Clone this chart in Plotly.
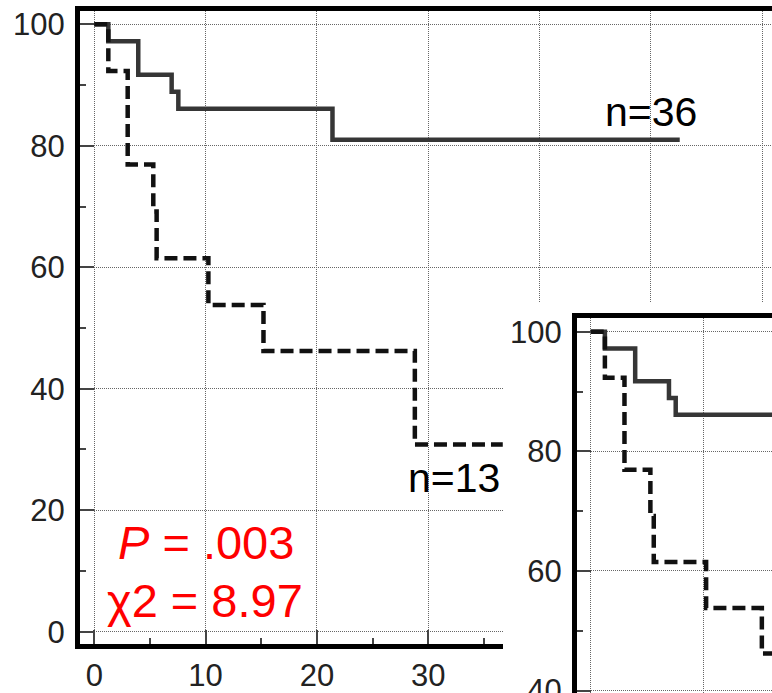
import plotly.graph_objects as go

# Kaplan-Meier steps
solid_time = [0, 1.26, 3.95, 6.95, 7.55, 21.4, 52.6]
solid_surv = [100, 97.2, 91.7, 88.9, 86.1, 81.0, 81.0]
dash_time = [0, 1.26, 3.0, 5.3, 5.6, 10.25, 15.2, 28.8, 36.7]
dash_surv = [100, 92.3, 76.9, 69.2, 61.5, 53.8, 46.2, 30.8, 30.8]

x_ticks = [0, 10, 20, 30, 40, 50, 60]
# labels for 40-60 lie under the inset panel in the picture
x_tick_labels = ["0", "10", "20", "30", "", "", ""]
y_ticks = [0, 20, 40, 60, 80, 100]
y_tick_labels = ["0", "20", "40", "60", "80", "100"]
inset_y_ticks = [40, 60, 80, 100]
inset_y_tick_labels = ["40", "60", "80", "100"]

label_n36 = "n=36"
label_n13 = "n=13"
label_p = "<i>P</i> = .003"
label_chi = "χ2 = 8.97"

FONT = "Arial, Liberation Sans, sans-serif"
SOLID_COLOR = "#363636"
DASH_COLOR = "#111111"

fig = go.Figure()

for xa, ya in (("x", "y"), ("x3", "y3")):
    fig.add_trace(go.Scatter(x=solid_time, y=solid_surv, mode="lines", line_shape="hv",
                             line=dict(color=SOLID_COLOR, width=4.5), xaxis=xa, yaxis=ya,
                             showlegend=False, hoverinfo="skip"))
    fig.add_trace(go.Scatter(x=dash_time, y=dash_surv, mode="lines", line_shape="hv",
                             line=dict(color=DASH_COLOR, width=4.5, dash="13px,6px"),
                             xaxis=xa, yaxis=ya, showlegend=False, hoverinfo="skip"))

# invisible marker so the white cover subplot exists
fig.add_trace(go.Scatter(x=[0.5], y=[0.5], mode="markers", marker=dict(opacity=0),
                         xaxis="x2", yaxis="y2", showlegend=False, hoverinfo="skip"))

W, H = 772, 693
L, T = 80, 11
pw, ph = W - L, H - T


def dx(sx):
    return (sx - L) / pw


def dy(sy):
    return (H - sy) / ph


main_xscale = 11.13
main_yscale = 6.074
inset_xscale = 11.26
inset_yscale = 5.98

main_bottom_px = 643.5
x_lo = -(94.3 - L) / main_xscale
x_hi = x_lo + (W - L) / main_xscale
y_hi = 100 + (24.3 - T) / main_yscale
y_lo = (631.7 - main_bottom_px) / main_yscale

inset_left = 577.0
inset_top = 318.0
ix_lo = -(590.7 - inset_left) / inset_xscale
ix_hi = ix_lo + (W - inset_left) / inset_xscale
iy_hi = 100 + (331.7 - inset_top) / inset_yscale
iy_lo = 100 - (H - 331.7) / inset_yscale

grid = dict(showgrid=True, gridcolor="#666666", gridwidth=1, griddash="1px,1px", zeroline=False)
tickfont = dict(family=FONT, size=31, color="#222222")
tickstyle = dict(ticks="inside", ticklen=14, tickwidth=1.5, tickcolor="#444444")

fig.update_layout(
    width=W, height=H,
    margin=dict(l=L, r=0, t=T, b=0, autoexpand=False),
    paper_bgcolor="white", plot_bgcolor="white",
    xaxis=dict(domain=[0, 1], range=[x_lo, x_hi], anchor="y", automargin=False,
               tickvals=x_ticks, ticktext=x_tick_labels,
               showline=True, linecolor="black", linewidth=5, mirror=True,
               minor=dict(ticks="inside", ticklen=6, dtick=5, tick0=0, tickwidth=1.5,
                          tickcolor="#444444", showgrid=False),
               tickfont=tickfont, ticklabelstandoff=0, **tickstyle, **grid),
    yaxis=dict(domain=[dy(main_bottom_px), 1], range=[y_lo, y_hi], anchor="x", automargin=False,
               tickvals=y_ticks, ticktext=y_tick_labels,
               showline=True, linecolor="black", linewidth=5, mirror=False,
               minor=dict(ticks="inside", ticklen=6, dtick=10, tick0=0, tickwidth=1.5,
                          tickcolor="#444444", showgrid=False),
               tickfont=tickfont, ticklabelstandoff=4, **tickstyle, **grid),
    xaxis2=dict(domain=[dx(503), 1], range=[0, 1], anchor="y2", visible=False, automargin=False),
    yaxis2=dict(domain=[0, dy(302)], range=[0, 1], anchor="x2", visible=False, automargin=False),
    xaxis3=dict(domain=[dx(inset_left), 1], range=[ix_lo, ix_hi], anchor="y3", automargin=False,
                side="top", showline=True, linecolor="black", linewidth=5, mirror=False,
                tickvals=[0, 10], ticks="", showticklabels=False, **grid),
    yaxis3=dict(domain=[0, dy(inset_top)], range=[iy_lo, iy_hi], automargin=False,
                anchor="x3", tickvals=inset_y_ticks, ticktext=inset_y_tick_labels,
                showline=True, linecolor="black", linewidth=5, mirror=False,
                minor=dict(ticks="inside", ticklen=6, dtick=10, tick0=0, tickwidth=1.5,
                           tickcolor="#444444", showgrid=False),
                tickfont=tickfont, ticklabelstandoff=4, ticklabeloverflow="allow",
                **tickstyle, **grid),
)

ann_font = dict(family=FONT, size=41, color="black")
red_font = dict(family=FONT, size=47, color="#ff0000")
fig.add_annotation(x=50.0, y=85.5, xref="x", yref="y", text=label_n36, showarrow=False,
                   font=ann_font, xanchor="center", yanchor="middle")
fig.add_annotation(x=32.3, y=25.3, xref="x", yref="y", text=label_n13, showarrow=False,
                   font=ann_font, xanchor="center", yanchor="middle")
fig.add_annotation(x=10.0, y=14.7, xref="x", yref="y", text=label_p, showarrow=False,
                   font=red_font, xanchor="center", yanchor="middle")
fig.add_annotation(x=9.95, y=5.2, xref="x", yref="y", text=label_chi, showarrow=False,
                   font=red_font, xanchor="center", yanchor="middle")

fig.write_html("out.html", config={"displayModeBar": False},
               post_script="document.body.style.margin='0px';document.body.style.overflow='hidden';")
